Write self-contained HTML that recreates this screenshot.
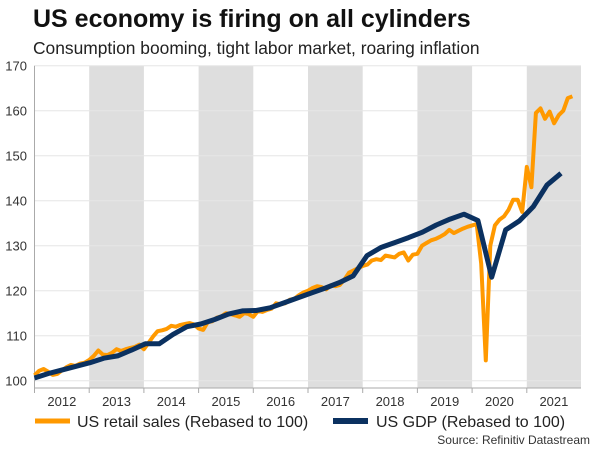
<!DOCTYPE html>
<html><head><meta charset="utf-8"><style>
body{margin:0;background:#fff;width:600px;height:450px;overflow:hidden;font-family:"Liberation Sans",sans-serif}
</style></head><body>
<svg width="600" height="450" xmlns="http://www.w3.org/2000/svg">
<text x="33" y="27" font-size="25" font-weight="bold" fill="#111">US economy is firing on all cylinders</text>
<text x="33" y="54" font-size="17.4" fill="#222">Consumption booming, tight labor market, roaring inflation</text>
<g id="plot"></g>
<g>
<line x1="35" y1="421" x2="70" y2="421" stroke="#ff9900" stroke-width="5"/>
<text x="77" y="427" font-size="16" fill="#222">US retail sales (Rebased to 100)</text>
<line x1="333" y1="421" x2="368" y2="421" stroke="#0b3160" stroke-width="6"/>
<text x="376" y="427" font-size="16" fill="#222">US GDP (Rebased to 100)</text>
</g>
<text x="590" y="444" font-size="12" fill="#333" text-anchor="end">Source: Refinitiv Datastream</text>
</svg>
<script>
const years = [2012,2013,2014,2015,2016,2017,2018,2019,2020,2021];
const yTicks = [100,110,120,130,140,150,160,170];
const retail = [
101.2,102.2,102.6,102.0,101.3,101.5,102.3,103.0,103.5,103.3,103.8,104.0,
104.6,105.5,106.7,105.8,105.7,106.2,107.0,106.6,107.0,107.3,107.5,108.0,
107.0,108.4,109.8,111.0,111.2,111.5,112.2,112.0,112.4,112.6,112.8,112.5,
111.6,111.3,113.0,113.2,114.0,114.3,115.0,114.8,114.5,114.2,115.0,114.8,
114.2,115.5,115.3,115.7,116.0,117.2,117.0,117.2,118.0,118.2,119.0,119.6,
120.0,120.6,121.0,120.8,120.3,121.2,121.0,121.3,122.5,124.0,124.5,125.0,
125.5,125.8,126.7,127.0,126.8,127.8,127.6,127.4,128.2,128.5,126.7,128.0,
128.2,130.0,130.6,131.2,131.5,132.0,132.6,133.5,132.8,133.3,133.8,134.2,
134.5,134.8,126.0,104.5,130.0,134.5,135.8,136.5,138.0,140.2,140.2,137.5,
147.5,143.0,159.5,160.5,158.2,159.8,157.2,159.0,160.0,162.8,163.2];
const gdp = [
100.6,101.6,102.4,103.2, 104.0,105.0,105.5,106.8, 108.2,108.2,110.3,112.0,
112.6,113.6,114.8,115.5, 115.6,116.2,117.3,118.4, 119.5,120.6,121.8,123.3,
127.8,129.6,130.7,131.8, 133.0,134.6,135.9,137.0, 135.6,123.0,133.5,135.5,
138.7,143.5,146.1];
const NS='http://www.w3.org/2000/svg';
const X0=34.5, YW=54.7, Y0=380.7, PXU=4.5, XEND=581, AXY=388;
const xm = m => X0 + m/12*YW;
const yv = v => Y0 - (v-100)*PXU;
const GDP_STEP = 115.5/38;
const plot=document.getElementById('plot');
function mk(t,a){const e=document.createElementNS(NS,t);for(const k in a)e.setAttribute(k,a[k]);plot.appendChild(e);return e;}
years.forEach((yr,i)=>{
  if(i%2===1){
    const r=mk('rect',{x:xm(i*12),y:yv(170),width:Math.min(xm((i+1)*12),XEND)-xm(i*12),height:AXY-yv(170),fill:'#dedede'});
    
    
  }
});
yTicks.forEach(t=>{
  const g=mk('line',{x1:X0,x2:XEND,y1:yv(t),y2:yv(t),stroke:'#e6e6e6','stroke-width':1});
  
  
  const l=mk('text',{x:27,y:yv(t)+5,'font-size':13,fill:'#333','text-anchor':'end'});
  l.textContent=t;
  
  
});
const ax=mk('line',{x1:X0,x2:X0,y1:yv(170),y2:AXY,stroke:'#aaa','stroke-width':1});


const bx=mk('line',{x1:X0,x2:XEND,y1:AXY,y2:AXY,stroke:'#aaa','stroke-width':1});


years.forEach((yr,i)=>{
  const tk=mk('line',{x1:xm(i*12),x2:xm(i*12),y1:AXY,y2:AXY+5,stroke:'#aaa'});
  
  
  const l=mk('text',{x:(xm(i*12)+Math.min(xm((i+1)*12),XEND))/2,y:AXY+18,'font-size':13,fill:'#333','text-anchor':'middle'});
  l.textContent=yr;
  
  
});
const rp=mk('polyline',{points:retail.map((v,m)=>xm(m).toFixed(1)+','+yv(v).toFixed(1)).join(' '),fill:'none',stroke:'#ff9900','stroke-width':4,'stroke-linejoin':'round'});


const gp=mk('polyline',{points:gdp.map((v,i)=>xm(i*GDP_STEP).toFixed(1)+','+yv(v).toFixed(1)).join(' '),fill:'none',stroke:'#0b3160','stroke-width':5,'stroke-linejoin':'round'});


</script>
</body></html>
